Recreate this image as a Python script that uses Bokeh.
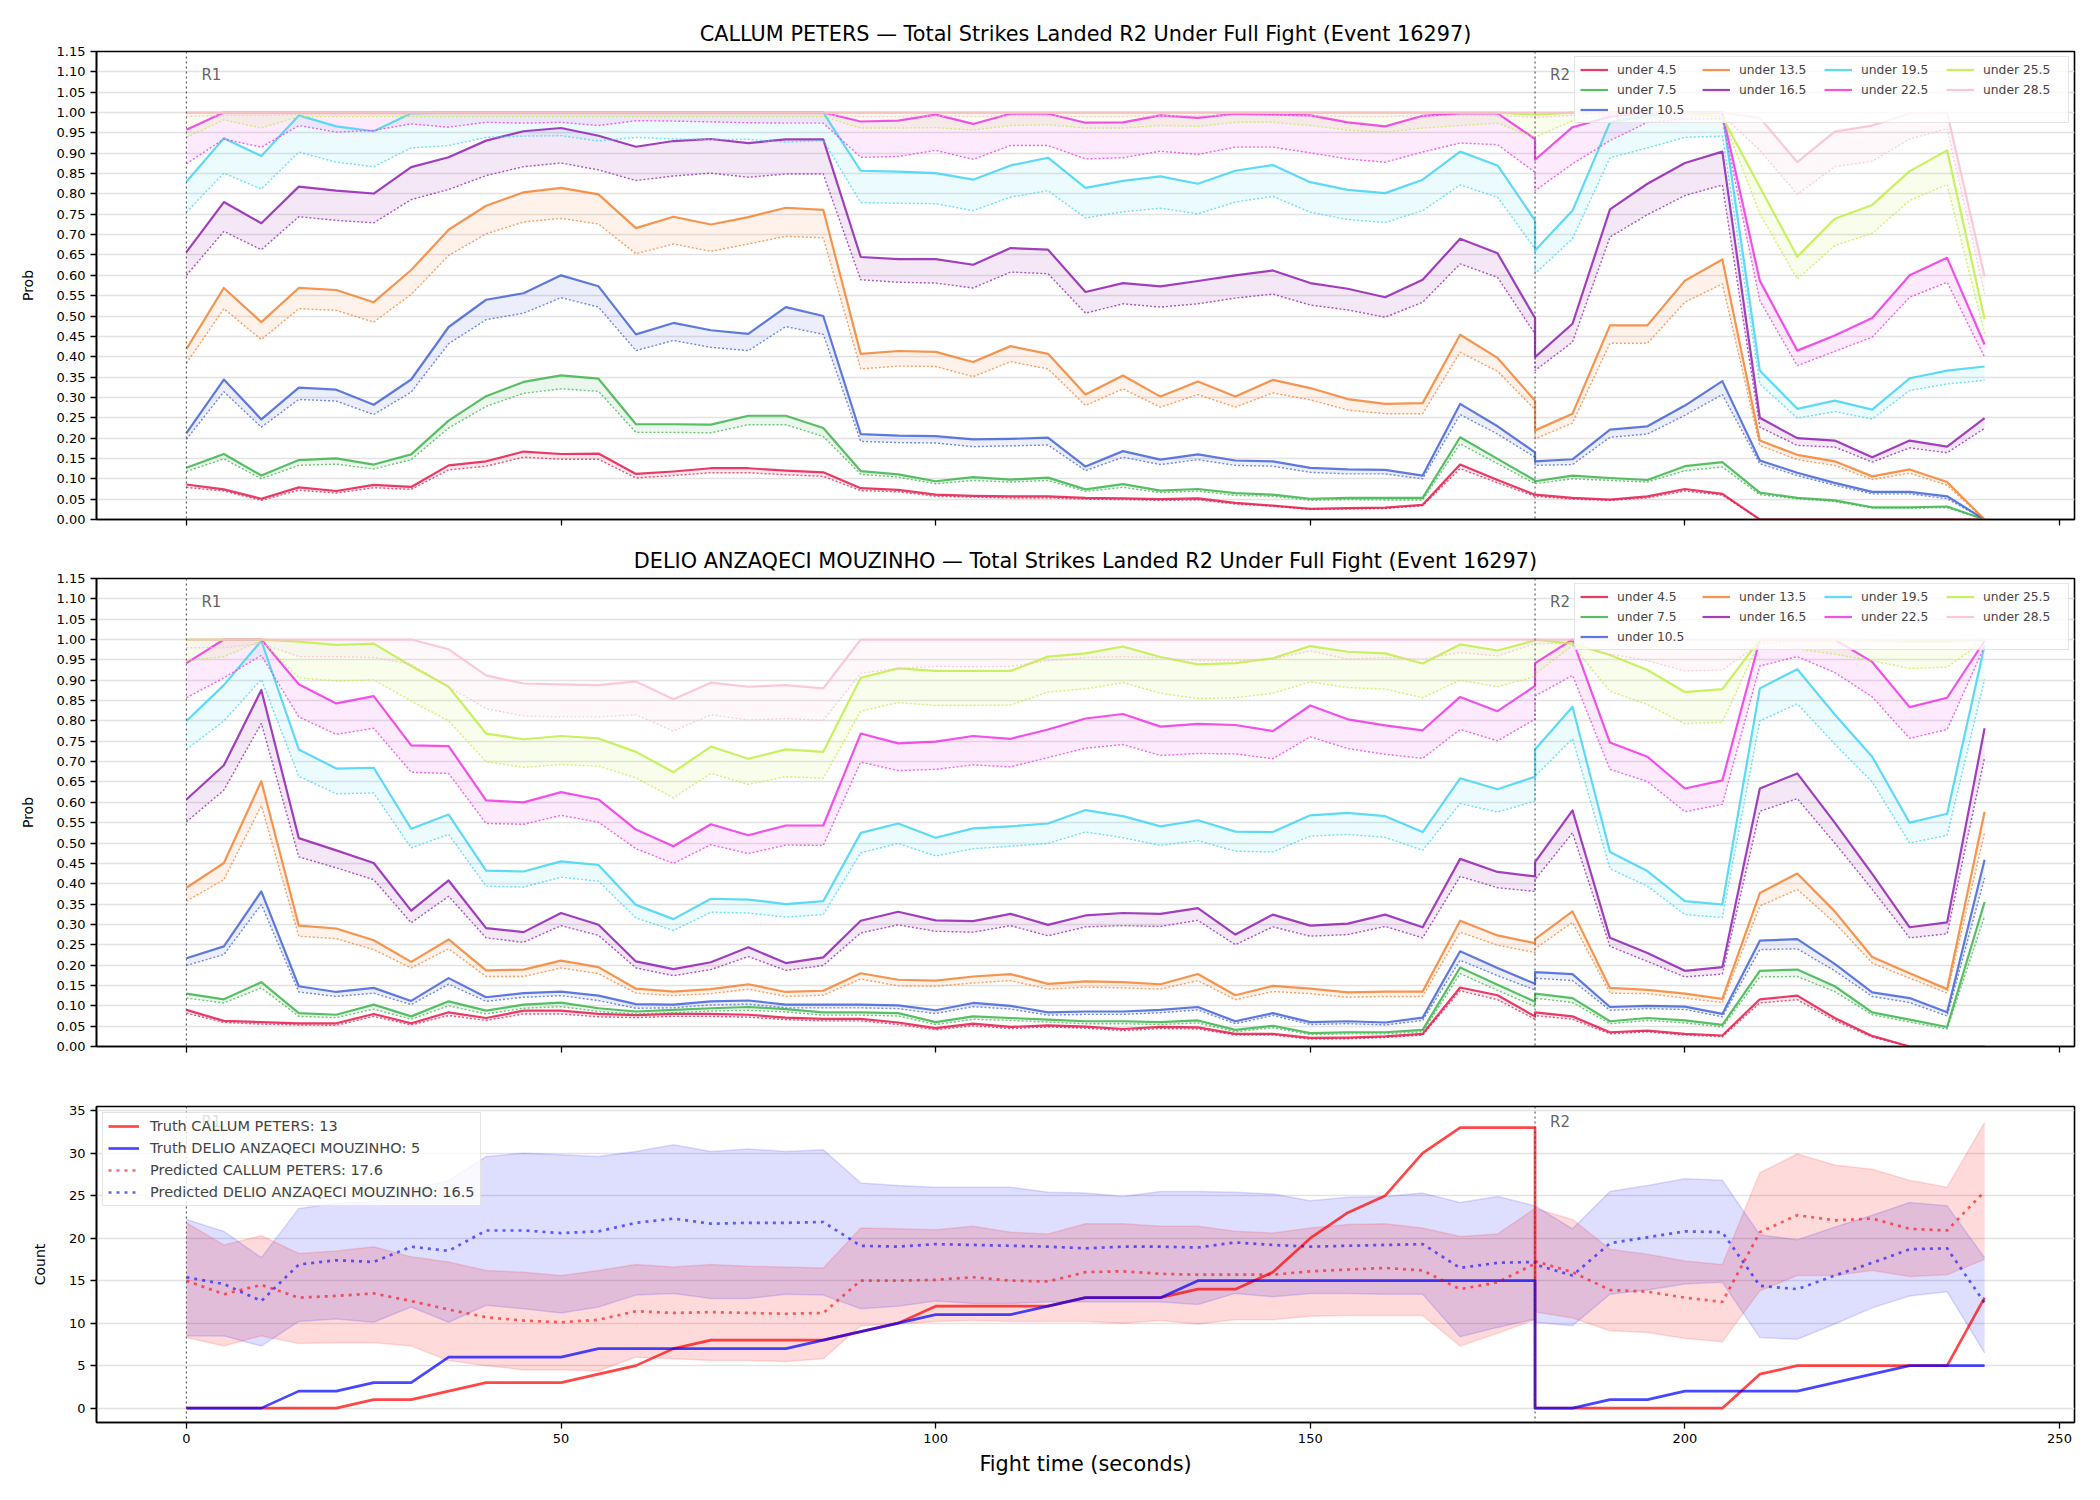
from bokeh.plotting import figure
from bokeh.models import (Range1d, FixedTicker, PrintfTickFormatter, Span, Legend,
                          LegendItem, Label)
from bokeh.layouts import column
from bokeh.embed import file_html
from bokeh.resources import INLINE

FONT = "DejaVu Sans"

# ---------------- data ----------------
# time points: round 1 (0..180 s) followed by round 2 (180..240 s)
time_s = [0, 5, 10, 15, 20, 25, 30, 35, 40, 45, 50, 55, 60, 65, 70, 75, 80, 85, 90, 95,
          100, 105, 110, 115, 120, 125, 130, 135, 140, 145, 150, 155, 160, 165, 170, 175, 180] + \
         [180, 185, 190, 195, 200, 205, 210, 215, 220, 225, 230, 235, 240]

thresholds = ["under 4.5", "under 7.5", "under 10.5", "under 13.5", "under 16.5",
              "under 19.5", "under 22.5", "under 25.5", "under 28.5"]
colors = ["#e6194b", "#3cb44b", "#4363d8", "#f58231", "#911eb4",
          "#42d4f4", "#f032e6", "#bfef45", "#fabed4"]

round_starts = [0, 180]
round_labels = ["R1", "R2"]
x_ticks = [0, 50, 100, 150, 200, 250]
prob_ticks = [0.0, 0.05, 0.1, 0.15, 0.2, 0.25, 0.3, 0.35, 0.4, 0.45, 0.5, 0.55, 0.6,
              0.65, 0.7, 0.75, 0.8, 0.85, 0.9, 0.95, 1.0, 1.05, 1.1, 1.15]
count_ticks = [0, 5, 10, 15, 20, 25, 30, 35]

# ---- CALLUM PETERS: probability (solid) and lower (dotted) per threshold ----
callum_u45 = [.086,.074,.051,.079,.070,.085,.080,.133,.143,.167,.161,.162,.112,.118,.126,.126,.120,.116,.077,.073,.061,.058,.057,.057,.053,.052,.050,.052,.041,.034,.026,.028,.029,.036,.135,.097,.061] + \
             [.061,.053,.049,.057,.075,.063,0,0,0,0,0,0,0]
callum_u45_lo = [.079,.070,.047,.072,.065,.078,.074,.122,.131,.153,.148,.148,.102,.108,.115,.115,.110,.106,.071,.068,.057,.055,.053,.053,.050,.049,.047,.048,.038,.033,.025,.026,.027,.034,.125,.090,.057] + \
                [.057,.050,.047,.053,.070,.060,0,0,0,0,0,0,0]
callum_u75 = [.127,.161,.108,.146,.150,.135,.160,.243,.303,.338,.354,.346,.234,.234,.233,.255,.255,.225,.119,.111,.094,.104,.098,.103,.074,.087,.071,.075,.065,.061,.051,.053,.053,.053,.202,.149,.096] + \
             [.094,.108,.102,.097,.131,.141,.066,.053,.047,.030,.030,.032,0]
callum_u75_lo = [.118,.149,.100,.133,.136,.124,.147,.225,.278,.310,.321,.315,.214,.214,.213,.233,.233,.204,.111,.104,.088,.096,.092,.096,.069,.079,.066,.070,.059,.057,.047,.049,.048,.048,.186,.137,.088] + \
                [.088,.100,.096,.092,.120,.129,.061,.051,.044,.028,.028,.029,0]
callum_u105 = [.212,.344,.246,.324,.319,.282,.344,.473,.540,.556,.600,.573,.455,.483,.465,.456,.522,.500,.210,.206,.205,.197,.198,.201,.130,.168,.147,.160,.145,.143,.127,.123,.122,.108,.284,.229,.165] + \
              [.143,.148,.221,.229,.280,.340,.145,.115,.090,.068,.068,.057,0]
callum_u105_lo = [.197,.314,.227,.295,.291,.258,.313,.432,.491,.507,.545,.522,.415,.440,.423,.415,.474,.455,.192,.189,.188,.179,.181,.183,.120,.153,.135,.147,.133,.131,.116,.112,.112,.100,.258,.210,.153] + \
                 [.133,.135,.202,.210,.256,.307,.137,.108,.084,.063,.063,.051,0]
callum_u135 = [.419,.569,.485,.569,.564,.534,.613,.712,.771,.804,.815,.799,.716,.744,.725,.743,.766,.761,.407,.414,.412,.387,.426,.407,.307,.354,.302,.339,.302,.343,.323,.296,.284,.286,.454,.397,.292] + \
              [.219,.260,.477,.477,.587,.639,.194,.159,.143,.106,.123,.092,0]
callum_u135_lo = [.384,.518,.442,.518,.514,.485,.553,.649,.702,.731,.740,.726,.653,.677,.659,.677,.696,.692,.370,.377,.376,.351,.388,.370,.280,.321,.276,.307,.276,.311,.294,.269,.260,.260,.411,.364,.270] + \
                 [.198,.237,.433,.433,.534,.579,.182,.147,.133,.098,.114,.084,0]
callum_u165 = [.657,.780,.728,.818,.808,.801,.866,.890,.931,.954,.962,.943,.916,.930,.935,.925,.934,.934,.645,.640,.640,.626,.667,.663,.559,.581,.573,.586,.600,.612,.581,.567,.546,.589,.690,.654,.495] + \
              [.399,.481,.762,.825,.876,.904,.250,.200,.194,.153,.194,.179,.249]
callum_u165_lo = [.600,.708,.663,.744,.735,.729,.786,.811,.845,.867,.876,.859,.833,.844,.851,.841,.849,.849,.589,.583,.581,.569,.608,.604,.507,.530,.522,.530,.544,.554,.527,.515,.497,.534,.628,.595,.456] + \
                 [.366,.436,.694,.749,.796,.822,.227,.182,.178,.141,.176,.164,.224]
callum_u195 = [.830,.937,.893,.993,.966,.954,.998,1,1,1,1,1,1,1,1,1,1,1,.857,.855,.851,.835,.870,.889,.815,.832,.843,.825,.857,.871,.829,.810,.802,.835,.904,.870,.735] + \
              [.661,.759,.976,.993,1,1,.366,.272,.292,.270,.347,.366,.376]
callum_u195_lo = [.755,.851,.812,.903,.878,.867,.913,.919,.939,.942,.943,.930,.939,.935,.934,.934,.927,.931,.779,.777,.776,.759,.792,.808,.741,.756,.765,.751,.780,.794,.755,.737,.730,.759,.822,.792,.665] + \
                 [.604,.690,.889,.913,.939,.942,.333,.249,.265,.247,.317,.333,.342]
callum_u225 = [.958,1,1,1,1,1,1,1,1,1,1,1,1,1,1,1,1,1,.978,.980,.995,.972,.997,.997,.975,.976,.993,.987,.997,.995,.993,.976,.966,.992,.998,.998,.935] + \
              [.884,.964,.990,1,1,1,.587,.415,.452,.495,.600,.643,.430]
callum_u225_lo = [.874,.935,.915,.968,.952,.956,.972,.964,.976,.974,.976,.968,.980,.979,.977,.975,.974,.974,.890,.892,.907,.885,.919,.919,.886,.889,.905,.897,.915,.915,.901,.886,.878,.903,.925,.921,.853] + \
                 [.808,.874,.931,.976,.984,.984,.538,.378,.413,.448,.546,.583,.399]
callum_u255 = [1,1,1,1,1,1,1,1,1,1,1,1,1,1,1,1,1,1,1,1,1,1,1,1,1,1,1,1,1,1,1,1,1,1,1,1,.995] + \
              [.995,1,1,1,1,.989,.817,.646,.739,.773,.856,.907,.493]
callum_u255_lo = [.939,.982,.962,.990,.990,.990,.990,.990,.990,.990,.990,.990,.990,.990,.990,.990,.990,.990,.962,.962,.963,.957,.968,.970,.962,.962,.968,.966,.976,.976,.968,.957,.952,.962,.968,.974,.939] + \
                 [.939,.980,.993,.990,.990,.990,.751,.591,.673,.703,.784,.823,.456]
callum_u285 = [1,1,1,1,1,1,1,1,1,1,1,1,1,1,1,1,1,1,1,1,1,1,1,1,1,1,1,1,1,1,1,1,1,1,1,1,1] + \
              [1,1,1,1,1,1,.987,.878,.953,.968,.998,1,.597]
callum_u285_lo = [.990,.993,.993,.995,.995,.995,.995,.995,.995,.995,.995,.995,.995,.995,.995,.995,.995,.995,.990,.990,.992,.990,.992,.992,.990,.990,.992,.992,.993,.993,.992,.990,.990,.992,.993,.993,.988] + \
                 [.988,.993,.995,.995,.995,.993,.907,.799,.867,.880,.935,.960,.554]

# ---- DELIO ANZAQECI MOUZINHO ----
delio_u45 = [.090,.063,.060,.057,.057,.080,.057,.084,.070,.088,.088,.080,.077,.080,.080,.078,.071,.068,.068,.059,.045,.056,.048,.052,.049,.043,.048,.047,.031,.031,.021,.022,.025,.031,.145,.126,.074] + \
            [.084,.074,.035,.039,.031,.027,.116,.125,.070,.026,0,0,0]
delio_u45_lo = [.082,.059,.055,.053,.052,.074,.053,.076,.064,.080,.080,.073,.071,.074,.074,.072,.066,.063,.063,.054,.041,.051,.044,.048,.045,.039,.044,.043,.028,.028,.018,.019,.022,.028,.137,.115,.067] + \
               [.076,.067,.031,.036,.028,.024,.107,.115,.064,.023,0,0,0]
delio_u75 = [.130,.116,.158,.082,.078,.103,.074,.111,.088,.103,.108,.094,.086,.090,.094,.097,.092,.084,.084,.082,.060,.074,.070,.066,.062,.062,.060,.064,.041,.051,.033,.035,.035,.041,.194,.152,.110] + \
            [.130,.119,.062,.070,.064,.053,.186,.189,.148,.084,.066,.048,.355]
delio_u75_lo = [.119,.107,.144,.074,.071,.092,.067,.100,.080,.094,.098,.086,.080,.083,.087,.089,.085,.077,.077,.075,.054,.067,.064,.060,.056,.056,.054,.058,.036,.046,.029,.031,.031,.036,.179,.138,.098] + \
               [.119,.108,.056,.064,.058,.048,.171,.172,.135,.078,.060,.043,.320]
delio_u105 = [.217,.246,.381,.148,.134,.144,.112,.168,.121,.131,.135,.125,.104,.103,.111,.113,.103,.103,.103,.101,.089,.107,.100,.084,.086,.086,.090,.097,.062,.082,.060,.062,.059,.071,.234,.193,.154] + \
             [.183,.178,.097,.100,.098,.080,.260,.264,.203,.133,.119,.084,.459]
delio_u105_lo = [.199,.226,.349,.134,.123,.131,.103,.153,.111,.121,.125,.113,.094,.095,.102,.104,.095,.095,.095,.093,.081,.098,.092,.077,.079,.079,.083,.090,.056,.076,.054,.056,.053,.064,.212,.174,.139] + \
                [.168,.162,.089,.093,.091,.073,.238,.240,.186,.123,.108,.075,.414]
delio_u135 = [.390,.451,.652,.297,.290,.261,.208,.263,.187,.189,.211,.195,.142,.135,.141,.153,.134,.137,.180,.164,.162,.172,.178,.154,.160,.158,.153,.178,.126,.149,.142,.133,.135,.135,.309,.273,.254] + \
             [.264,.332,.144,.139,.130,.117,.377,.425,.332,.220,.180,.141,.577]
delio_u135_lo = [.357,.410,.592,.271,.265,.238,.193,.240,.172,.172,.193,.179,.131,.125,.130,.141,.123,.126,.166,.149,.148,.156,.162,.141,.146,.144,.141,.162,.115,.135,.130,.121,.123,.123,.281,.249,.231] + \
                [.240,.305,.131,.130,.119,.108,.345,.386,.304,.205,.168,.131,.525]
delio_u165 = [.607,.691,.876,.512,.482,.451,.334,.408,.291,.281,.328,.299,.209,.190,.207,.244,.205,.219,.309,.331,.310,.308,.326,.299,.322,.328,.326,.340,.275,.324,.297,.302,.324,.293,.461,.429,.418] + \
             [.453,.580,.267,.230,.186,.195,.634,.671,.550,.424,.293,.305,.782]
delio_u165_lo = [.552,.630,.794,.466,.439,.410,.304,.369,.267,.256,.297,.273,.193,.174,.189,.221,.187,.199,.279,.299,.283,.281,.297,.272,.294,.297,.295,.310,.250,.294,.271,.275,.295,.267,.418,.390,.381] + \
                [.410,.525,.246,.209,.171,.178,.578,.609,.500,.386,.267,.277,.710]
delio_u195 = [.800,.888,.997,.730,.683,.685,.535,.570,.432,.430,.455,.446,.348,.313,.363,.361,.350,.357,.525,.548,.513,.536,.541,.548,.581,.566,.541,.556,.528,.527,.568,.574,.566,.527,.659,.632,.663] + \
             [.730,.835,.478,.431,.357,.349,.880,.927,.816,.712,.550,.572,.986]
delio_u195_lo = [.730,.800,.902,.664,.621,.623,.488,.521,.394,.392,.416,.406,.316,.285,.330,.328,.318,.324,.476,.499,.468,.486,.492,.499,.527,.513,.494,.506,.480,.478,.517,.521,.514,.482,.597,.576,.603] + \
                [.664,.756,.437,.394,.324,.317,.800,.842,.743,.650,.500,.519,.902]
delio_u225 = [.942,1,1,.890,.843,.861,.740,.738,.605,.600,.625,.607,.533,.492,.546,.519,.543,.543,.769,.745,.749,.763,.756,.779,.806,.817,.786,.793,.790,.775,.838,.804,.789,.777,.859,.824,.886] + \
             [.942,1,.747,.712,.634,.654,1,1,1,.945,.834,.857,.997]
delio_u225_lo = [.857,.906,.961,.810,.767,.782,.674,.671,.548,.546,.568,.551,.486,.450,.496,.474,.495,.494,.699,.678,.681,.692,.687,.710,.733,.742,.715,.720,.719,.707,.761,.732,.718,.708,.779,.751,.804] + \
                [.861,.912,.681,.651,.577,.595,.935,.958,.919,.859,.757,.779,.984]
delio_u255 = [1,1,1,.995,.987,.990,.935,.884,.769,.755,.763,.757,.724,.674,.737,.707,.730,.724,.906,.929,.923,.923,.923,.958,.966,.983,.957,.939,.942,.954,.984,.970,.966,.941,.988,.973,.998] + \
             [1,.99,.962,.925,.871,.878,1,1,1,.998,.995,.995,1]
delio_u255_lo = [.948,.958,.997,.906,.898,.901,.849,.800,.700,.686,.693,.689,.660,.611,.671,.644,.663,.659,.824,.845,.838,.838,.839,.871,.879,.894,.868,.855,.857,.868,.896,.882,.878,.857,.900,.884,.909] + \
                [.915,.985,.873,.840,.793,.797,.997,.977,.964,.948,.929,.932,.997]
delio_u285 = [1,1,1,1,1,1,1,.976,.912,.892,.890,.888,.897,.853,.894,.884,.888,.880,1,1,1,1,1,1,1,1,1,1,1,1,1,1,1,1,1,1,1] + \
             [1,1,1,1,1,1,1,1,1,1,1,1,1]
delio_u285_lo = [.980,.980,.990,.958,.958,.956,.939,.884,.830,.812,.810,.810,.815,.775,.815,.802,.806,.801,.917,.929,.934,.933,.934,.948,.956,.958,.955,.948,.948,.952,.972,.952,.955,.952,.968,.960,.990] + \
                [.990,.990,.964,.948,.923,.925,.990,.995,.995,.995,.995,.995,1]

# ---- cumulative counts ----
truth_callum = [0,0,0,0,0,1,1,2,3,3,3,4,5,7,8,8,8,8,9,10,12,12,12,12,13,13,13,14,14,16,20,23,25,30,33,33,33] + \
               [0,0,0,0,0,0,4,5,5,5,5,5,13]
truth_delio = [0,0,0,2,2,3,3,6,6,6,6,7,7,7,7,7,7,8,9,10,11,11,11,12,13,13,13,15,15,15,15,15,15,15,15,15,15] + \
              [0,0,1,1,2,2,2,2,3,4,5,5,5]
pred_callum = [15.0,13.4,14.5,13.0,13.2,13.5,12.6,11.6,10.7,10.3,10.1,10.4,11.4,11.2,11.3,11.2,11.1,11.2,15.0,15.0,15.1,15.4,15.0,14.9,16.0,16.1,15.8,15.7,15.7,15.7,16.1,16.3,16.5,16.2,14.0,14.8,17.0] + \
              [17.3,16.0,13.9,13.7,13.0,12.5,20.7,22.7,22.1,22.3,21.1,20.9,25.5]
pred_delio = [15.4,14.6,12.6,16.9,17.4,17.2,19.0,18.5,20.9,20.9,20.6,20.8,21.8,22.3,21.7,21.8,21.8,21.9,19.1,19.0,19.3,19.2,19.1,19.0,18.8,19.0,19.0,18.9,19.5,19.2,19.0,19.1,19.2,19.3,16.5,17.1,17.2] + \
             [16.9,15.6,19.4,20.1,20.8,20.7,14.4,14.0,15.6,17.1,18.7,18.8,12.4]
callum_hi = [21.8,19.2,20.3,18.2,18.5,19.0,17.8,17.2,16.2,16.0,15.6,16.2,16.9,16.6,16.9,16.7,16.6,16.5,21.2,21.1,21.0,21.4,20.7,20.5,21.7,21.7,21.4,21.4,20.8,20.6,21.2,21.6,21.7,21.2,20.2,20.5,23.5] + \
            [23.5,22.2,18.7,18.1,17.3,16.9,27.7,29.9,28.6,28.1,26.8,26.0,33.6]
callum_lo = [8.3,7.3,8.5,7.6,7.7,7.7,7.3,5.6,5.0,4.5,4.5,4.4,6.0,5.8,5.6,5.6,5.5,5.8,9.7,9.9,10.2,10.3,10.2,10.2,10.2,10.0,10.3,9.9,10.4,10.4,10.8,10.9,10.9,10.9,7.3,8.8,10.4] + \
            [11.3,10.6,9.1,8.9,8.2,7.8,13.8,15.6,15.6,16.2,15.5,15.7,17.5]
delio_hi = [22.2,20.8,17.7,23.5,24.1,24.3,25.7,26.8,29.6,30.0,29.8,29.6,30.2,31.0,30.2,30.5,30.2,30.4,26.5,26.2,26.0,26.0,26.0,25.4,25.3,24.9,25.5,25.5,25.4,25.2,24.4,24.8,24.9,25.3,24.2,24.9,23.8] + \
           [23.8,21.1,25.5,26.2,27.0,26.8,20.4,19.8,21.3,22.7,24.2,23.8,17.7]
delio_lo = [8.5,8.5,7.3,10.2,10.5,10.1,11.9,10.1,12.1,11.7,11.2,11.9,13.3,13.5,12.9,12.9,13.4,13.3,11.7,12.0,12.6,12.3,12.3,12.5,12.5,12.5,12.5,12.2,13.5,13.1,13.5,13.5,13.4,13.4,8.4,9.5,10.5] + \
           [10.1,9.7,13.4,13.9,14.6,14.8,8.3,8.1,9.9,11.8,13.2,13.7,6.5]

callum_series = [callum_u45, callum_u75, callum_u105, callum_u135, callum_u165,
                 callum_u195, callum_u225, callum_u255, callum_u285]
callum_lows = [callum_u45_lo, callum_u75_lo, callum_u105_lo, callum_u135_lo, callum_u165_lo,
               callum_u195_lo, callum_u225_lo, callum_u255_lo, callum_u285_lo]
delio_series = [delio_u45, delio_u75, delio_u105, delio_u135, delio_u165,
                delio_u195, delio_u225, delio_u255, delio_u285]
delio_lows = [delio_u45_lo, delio_u75_lo, delio_u105_lo, delio_u135_lo, delio_u165_lo,
              delio_u195_lo, delio_u225_lo, delio_u255_lo, delio_u285_lo]

# ---------------- plotting ----------------
x_range = Range1d(-12, 252)
FRAME_W = 1978


def style(p, ylabel, yticks, yfmt, show_xlabels):
    p.outline_line_color = "black"
    p.outline_line_width = 1.6
    p.outline_line_alpha = 1.0
    p.background_fill_color = "white"
    p.border_fill_color = "white"
    p.xgrid.visible = False
    p.ygrid.grid_line_color = "#e2e2e2"
    p.ygrid.grid_line_width = 1.3
    p.yaxis.ticker = FixedTicker(ticks=yticks)
    p.xaxis.ticker = FixedTicker(ticks=x_ticks)
    if yfmt:
        p.yaxis.formatter = PrintfTickFormatter(format=yfmt)
    for ax in (p.xaxis[0], p.yaxis[0]):
        ax.axis_line_width = 1.6
        ax.axis_line_color = "black"
        ax.major_tick_line_width = 1.3
        ax.major_tick_line_color = "black"
        ax.major_tick_out = 6
        ax.major_tick_in = 0
        ax.minor_tick_line_color = None
        ax.major_label_text_font = FONT
        ax.major_label_text_font_size = "13px"
        ax.major_label_text_color = "black"
        ax.major_label_standoff = 5
        ax.axis_label_text_font = FONT
        ax.axis_label_text_font_style = "normal"
        ax.axis_label_text_color = "black"
    p.yaxis.axis_label = ylabel
    p.yaxis.axis_label_text_font_size = "14px"
    p.yaxis.axis_label_standoff = 18
    if not show_xlabels:
        # shared x axis: tick marks only, no labels drawn
        p.xaxis.major_label_text_color = None
        p.xaxis.major_label_text_font_size = "1px"
    p.title.text_font = FONT
    p.title.text_font_size = "20.8px"
    p.title.text_font_style = "normal"
    p.title.text_color = "black"
    p.title.align = "center"
    p.title.standoff = 11


def add_rounds(p, ytop):
    for rs, lab in zip(round_starts, round_labels):
        p.add_layout(Span(location=rs, dimension="height", line_color="#444444",
                          line_width=1.2, line_dash="2 3", line_alpha=0.85))
        p.add_layout(Label(x=rs + 2, y=0.95 * ytop, text=lab, text_font=FONT,
                           text_font_size="15px", text_color="#666666",
                           text_baseline="middle", text_align="left"))


def prob_fig(title_text, series, lows, top_border):
    p = figure(frame_width=FRAME_W, frame_height=468, x_range=x_range,
               y_range=Range1d(0, 1.15), output_backend="svg", toolbar_location=None,
               min_border_left=96, min_border_right=26, min_border_top=top_border,
               min_border_bottom=21, title=title_text)
    style(p, "Prob", prob_ticks, "%.2f", False)
    for hi, lo, c in zip(series, lows, colors):
        p.varea(x=time_s, y1=lo, y2=hi, fill_color=c, fill_alpha=0.1)
    add_rounds(p, 1.15)
    solid = []
    for hi, lo, c in zip(series, lows, colors):
        r = p.line(time_s, hi, line_color=c, line_width=2.2, line_alpha=0.85, line_join="round")
        p.line(time_s, lo, line_color=c, line_width=1.4, line_alpha=0.75,
               line_dash="2 2")
        solid.append(r)
    blank = p.line(time_s, series[0], line_alpha=0, line_width=1)
    items = []
    for name, r in zip(thresholds, solid):
        items.append(LegendItem(label=name, renderers=[r]))
        if name in ("under 16.5", "under 22.5"):
            items.append(LegendItem(label=" ", renderers=[blank]))
    leg = Legend(items=items, location="top_right", orientation="vertical", nrows=3,
                 label_text_font=FONT, label_text_font_size="12.3px",
                 glyph_width=28, glyph_height=15, label_height=15, label_width=80,
                 label_standoff=9, spacing=5, padding=5, margin=5,
                 border_line_color="#cccccc", border_line_width=1,
                 background_fill_alpha=0.8)
    p.add_layout(leg)
    return p


p1 = prob_fig("CALLUM PETERS — Total Strikes Landed R2 Under Full Fight (Event 16297)",
              callum_series, callum_lows, 51)
p2 = prob_fig("DELIO ANZAQECI MOUZINHO — Total Strikes Landed R2 Under Full Fight (Event 16297)",
              delio_series, delio_lows, 38)

p3 = figure(frame_width=FRAME_W, frame_height=316, x_range=x_range,
            y_range=Range1d(-1.69, 35.49), output_backend="svg", toolbar_location=None,
            min_border_left=96, min_border_right=26, min_border_top=39, min_border_bottom=78)
style(p3, "Count", count_ticks, None, True)
p3.xaxis.axis_label = "Fight time (seconds)"
p3.xaxis.axis_label_text_font_size = "20.8px"
p3.xaxis.axis_label_standoff = 6

p3.varea(x=time_s, y1=delio_lo, y2=delio_hi, fill_color="#0000ff", fill_alpha=0.13)
p3.varea(x=time_s, y1=callum_lo, y2=callum_hi, fill_color="#ff0000", fill_alpha=0.145)
for arr, c in ((delio_lo, "#0000ff"), (delio_hi, "#0000ff"),
               (callum_lo, "#ff0000"), (callum_hi, "#ff0000")):
    p3.line(time_s, arr, line_color=c, line_alpha=0.13, line_width=1.5)
add_rounds(p3, 35.49)
r_tc = p3.line(time_s, truth_callum, line_color="#ff0000", line_alpha=0.72, line_width=2.7,
               line_join="round")
r_td = p3.line(time_s, truth_delio, line_color="#0000ff", line_alpha=0.72, line_width=2.7,
               line_join="round")
r_pc = p3.line(time_s, pred_callum, line_color="#ff0000", line_alpha=0.6, line_width=2.7,
               line_dash="3 5")
r_pd = p3.line(time_s, pred_delio, line_color="#0000ff", line_alpha=0.6, line_width=2.7,
               line_dash="3 5")
leg3 = Legend(items=[LegendItem(label="Truth CALLUM PETERS: 13", renderers=[r_tc]),
                     LegendItem(label="Truth DELIO ANZAQECI MOUZINHO: 5", renderers=[r_td]),
                     LegendItem(label="Predicted CALLUM PETERS: 17.6", renderers=[r_pc]),
                     LegendItem(label="Predicted DELIO ANZAQECI MOUZINHO: 16.5", renderers=[r_pd])],
              location="top_left", orientation="vertical",
              label_text_font=FONT, label_text_font_size="14.5px",
              glyph_width=31, glyph_height=16, label_height=16, label_standoff=11,
              spacing=6, padding=5, margin=6,
              border_line_color="#cccccc", border_line_width=1, background_fill_alpha=0.8)
p3.add_layout(leg3)

layout = column(p1, p2, p3)
open("out.html", "w").write(file_html(layout, INLINE))
